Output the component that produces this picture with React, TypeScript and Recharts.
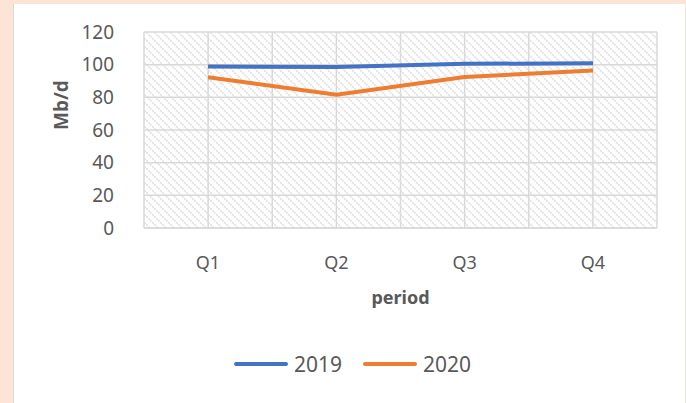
import React from 'react';
import { LineChart, Line, XAxis, YAxis, CartesianGrid, Legend } from 'recharts';

const categories = ['Q1', 'Q2', 'Q3', 'Q4'];
const series2019 = [98.9, 98.6, 100.5, 100.9];
const series2020 = [92.3, 81.6, 92.5, 96.4];
const yTicks = [0, 20, 40, 60, 80, 100, 120];

const data = categories.map((c, i) => ({ period: c, y2019: series2019[i], y2020: series2020[i] }));

const FONT = '"Noto Sans", "Open Sans", sans-serif';
const GREY = '#595959';
const BLUE = '#4472C4';
const ORANGE = '#ED7D31';

const LegendContent = () => (
  <div style={{ display: 'flex', justifyContent: 'center', alignItems: 'center', fontFamily: FONT, fontSize: 21, color: GREY, paddingLeft: 32 }}>
    <svg width={58} height={10} style={{ marginRight: 4 }}>
      <line x1={4} y1={5} x2={54} y2={5} stroke={BLUE} strokeWidth={4} strokeLinecap="round" />
    </svg>
    <span style={{ marginRight: 19 }}>2019</span>
    <svg width={58} height={10} style={{ marginRight: 4 }}>
      <line x1={4} y1={5} x2={54} y2={5} stroke={ORANGE} strokeWidth={4} strokeLinecap="round" />
    </svg>
    <span>2020</span>
  </div>
);

export default function App() {
  return (
    <div style={{ position: 'fixed', left: 0, top: 0, width: 686, height: 403, background: '#FCE4D6', overflow: 'hidden' }}>
      <div style={{ position: 'absolute', left: 13, top: 4, width: 672, height: 399, background: '#ffffff', borderLeft: '1px solid #D9D9D9', boxSizing: 'border-box' }}>
        <LineChart width={671} height={399} data={data} margin={{ top: 28, right: 28, bottom: 67, left: 0 }} style={{ fontFamily: FONT }}>
          <defs>
            <pattern id="hatch" width="8" height="8" patternUnits="userSpaceOnUse">
              <rect width="8" height="8" fill="#ffffff" />
              <path d="M-2,-2 L10,10 M-2,6 L2,10 M6,-2 L10,2" stroke="#DEDEDE" strokeWidth="1.5" strokeDasharray="2 1" />
            </pattern>
          </defs>
          <CartesianGrid
            fill="url(#hatch)"
            stroke="#D9D9D9"
            strokeWidth={1.5}
            verticalCoordinatesGenerator={({ offset }: any) => {
              const pts: number[] = [];
              for (let i = 0; i <= categories.length * 2; i++) pts.push(offset.left + (offset.width * i) / (categories.length * 2));
              return pts;
            }}
          />
          <XAxis
            dataKey="period"
            height={80}
            padding={{ left: 64, right: 64 }}
            tickLine={false}
            axisLine={{ stroke: '#D9D9D9', strokeWidth: 1.5 }}
            tick={{ fill: GREY, fontSize: 18, fontFamily: FONT }}
            tickMargin={22}
            label={{ value: 'period', position: 'insideBottom', offset: 4, fill: GREY, fontSize: 18, fontWeight: 700, fontFamily: FONT }}
          />
          <YAxis
            width={130}
            domain={[0, 120]}
            ticks={yTicks}
            interval={0}
            tickLine={false}
            axisLine={false}
            tickMargin={24}
            tick={{ fill: GREY, fontSize: 19, fontFamily: FONT }}
            label={{ value: 'Mb/d', angle: -90, position: 'insideLeft', offset: 47, fill: GREY, fontSize: 19, fontWeight: 700, fontFamily: FONT }}
          />
          <Line type="linear" dataKey="y2019" name="2019" stroke={BLUE} strokeWidth={4} dot={false} isAnimationActive={false} />
          <Line type="linear" dataKey="y2020" name="2020" stroke={ORANGE} strokeWidth={4} dot={false} isAnimationActive={false} />
          <Legend verticalAlign="bottom" content={<LegendContent />} wrapperStyle={{ bottom: 25 }} />
        </LineChart>
      </div>
    </div>
  );
}
